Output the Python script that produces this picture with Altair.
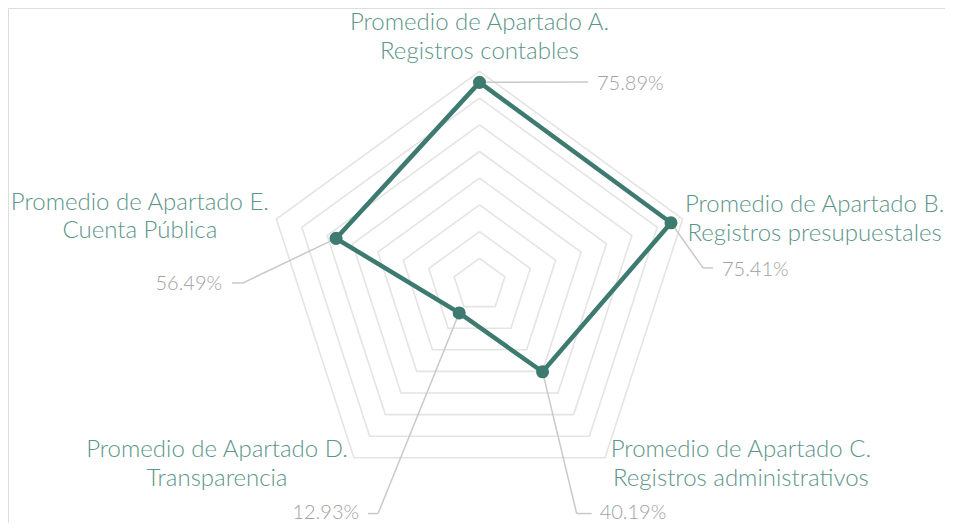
import altair as alt
import pandas as pd

# ---- data ----
categories = [
    "Promedio de Apartado A.\nRegistros contables",
    "Promedio de Apartado B.\nRegistros presupuestales",
    "Promedio de Apartado C.\nRegistros administrativos",
    "Promedio de Apartado D.\nTransparencia",
    "Promedio de Apartado E.\nCuenta Pública",
]
values = [75.89, 75.41, 40.19, 12.93, 56.49]
value_labels = ["75.89%", "75.41%", "40.19%", "12.93%", "56.49%"]
grid_levels = [10, 20, 30, 40, 50, 60, 70, 80]

# ---- layout (in chart value units, relative to the centre) ----
cat_x = [0.0, 125.5, 97.9, -98.3, -127.2]
cat_y = [95.5, 27.3, -64.6, -64.6, 28.1]
elbow_x = [None, 83.7, 36.4, -38.0, -88.6]
elbow_y = [None, 6.4, -85.6, -85.6, 0.75]
end_x = [40.6, 87.5, 42.0, -41.8, -92.7]
end_y = [76.0, 6.4, -85.6, -85.6, 0.75]
lab_x = [44.0, 90.8, 45.0, -45.1, -96.4]
lab_y = [73.0, 3.4, -87.6, -87.6, -1.9]
lab_align = ["left", "left", "left", "right", "right"]

W, H = 937, 515
K = 2.67
X0, Y0 = 471.5, 277.0
xs = alt.Scale(domain=[-X0 / K, (W - X0) / K], nice=False, zero=False)
ys = alt.Scale(domain=[-(H - Y0) / K, Y0 / K], nice=False, zero=False)

n = len(categories)
ANG = "(PI/2 - 2*PI*datum.idx/5)"

# grid rings
grid_rows = []
for lv in grid_levels:
    for j in range(n + 1):
        grid_rows.append({"level": lv, "idx": j % n, "ord": j})
grid_df = pd.DataFrame(grid_rows)

grid = alt.Chart(grid_df).transform_calculate(
    x=f"datum.level*cos({ANG})", y=f"datum.level*sin({ANG})"
).mark_line(color="#e4e4e4", strokeWidth=1.6).encode(
    x=alt.X("x:Q", scale=xs, axis=None),
    y=alt.Y("y:Q", scale=ys, axis=None),
    detail="level:N",
    order="ord:Q",
)

# data polygon
line_rows = [{"idx": j % n, "ord": j, "value": values[j % n]} for j in range(n + 1)]
line_df = pd.DataFrame(line_rows)

poly = alt.Chart(line_df).transform_calculate(
    x=f"datum.value*cos({ANG})", y=f"datum.value*sin({ANG})"
).mark_line(color="#3d7a70", strokeWidth=4.5, strokeJoin="miter").encode(
    x=alt.X("x:Q", scale=xs, axis=None),
    y=alt.Y("y:Q", scale=ys, axis=None),
    order="ord:Q",
)

pts_df = pd.DataFrame({
    "idx": list(range(n)),
    "value": values,
    "label": value_labels,
    "cat": categories,
    "ex": elbow_x,
    "ey": elbow_y,
    "endx": end_x,
    "endy": end_y,
    "lx": lab_x,
    "ly": lab_y,
    "cx": cat_x,
    "cy": cat_y,
    "al": lab_align,
})

base = alt.Chart(pts_df).transform_calculate(
    x=f"datum.value*cos({ANG})", y=f"datum.value*sin({ANG})"
).transform_calculate(
    ex2="isValid(datum.ex) ? datum.ex : datum.x",
    ey2="isValid(datum.ey) ? datum.ey : datum.y",
)

lead1 = base.mark_rule(color="#c9c9c9", strokeWidth=1.5).encode(
    x=alt.X("x:Q", scale=xs, axis=None),
    y=alt.Y("y:Q", scale=ys, axis=None),
    x2="ex2:Q",
    y2="ey2:Q",
)
lead2 = base.mark_rule(color="#c9c9c9", strokeWidth=1.5).encode(
    x=alt.X("ex2:Q", scale=xs, axis=None),
    y=alt.Y("ey2:Q", scale=ys, axis=None),
    x2="endx:Q",
    y2="endy:Q",
)

dots = base.mark_circle(color="#3d7a70", size=170, opacity=1).encode(
    x=alt.X("x:Q", scale=xs, axis=None),
    y=alt.Y("y:Q", scale=ys, axis=None),
)

pct_left = base.transform_filter("datum.al == 'left'").mark_text(
    align="left", baseline="alphabetic", font="Lato", fontWeight=300,
    fontSize=20, color="#a0a0a0",
).encode(
    x=alt.X("lx:Q", scale=xs, axis=None),
    y=alt.Y("ly:Q", scale=ys, axis=None),
    text="label:N",
)
pct_right = base.transform_filter("datum.al == 'right'").mark_text(
    align="right", baseline="alphabetic", font="Lato", fontWeight=300,
    fontSize=20, color="#a0a0a0",
).encode(
    x=alt.X("lx:Q", scale=xs, axis=None),
    y=alt.Y("ly:Q", scale=ys, axis=None),
    text="label:N",
)

cats = base.mark_text(
    align="center", baseline="alphabetic", font="Lato", fontWeight=300,
    fontSize=24, color="#5c958a", lineBreak="\n", lineHeight=28.5,
).encode(
    x=alt.X("cx:Q", scale=xs, axis=None),
    y=alt.Y("cy:Q", scale=ys, axis=None),
    text="cat:N",
)

chart = alt.layer(grid, lead1, lead2, poly, dots, pct_left, pct_right, cats).properties(
    width=W, height=H, padding=0, autosize="none"
).configure_view(stroke="transparent", strokeWidth=0).configure(background="white")

chart.save("out.html", embed_options={"renderer": "svg", "actions": False})
